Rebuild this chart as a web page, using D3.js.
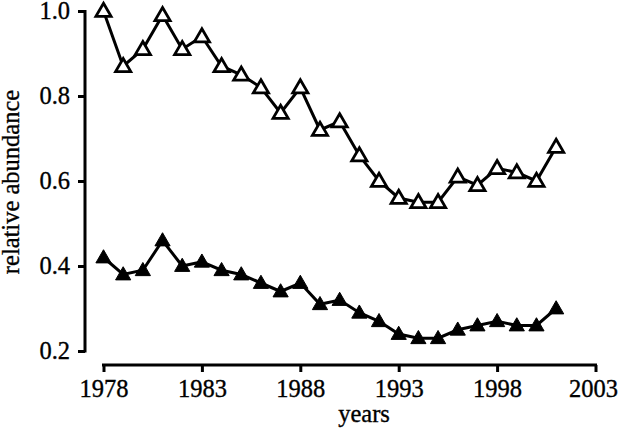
<!DOCTYPE html>
<html>
<head>
<meta charset="utf-8">
<script src="https://cdn.jsdelivr.net/npm/d3@7"></script>
<style>
  html, body { margin: 0; padding: 0; background: #fff; }
  svg { display: block; }
  text { font-family: "Liberation Serif", "Times New Roman", serif; fill: #000; stroke: #000; stroke-width: 0.35px; }
</style>
</head>
<body>
<svg id="chart" width="618" height="429"></svg>
<script>
const years = [1978,1979,1980,1981,1982,1983,1984,1985,1986,1987,1988,1989,1990,1991,1992,1993,1994,1995,1996,1997,1998,1999,2000,2001];
const upperValues = [1.00,0.87,0.91,0.99,0.91,0.94,0.87,0.85,0.82,0.76,0.82,0.72,0.74,0.66,0.60,0.56,0.55,0.55,0.61,0.59,0.63,0.62,0.60,0.68];
const lowerValues = [0.42,0.38,0.39,0.46,0.40,0.41,0.39,0.38,0.36,0.34,0.36,0.31,0.32,0.29,0.27,0.24,0.23,0.23,0.25,0.26,0.27,0.26,0.26,0.30];
const xTicks = [1978,1983,1988,1993,1998,2003];
const yTicks = [0.2,0.4,0.6,0.8,1.0];

const svg = d3.select("#chart");
const x = d3.scaleLinear().domain([1978, 2003]).range([103.5, 595.5]);
const y = d3.scaleLinear().domain([0.2, 1.0]).range([351, 11]);
const fs = "24.5px";

// y axis
const yAxis = svg.append("g").attr("transform", "translate(85,0)")
  .call(d3.axisLeft(y).tickValues(yTicks).tickFormat(d3.format(".1f")).tickSize(7).tickPadding(8));
yAxis.select(".domain").attr("stroke", "#000").attr("stroke-width", 3).attr("d", `M0,${y(1.0) - 1}V${y(0.2) + 1.5}`);
yAxis.selectAll(".tick line").attr("stroke", "#000").attr("stroke-width", 3);
yAxis.selectAll(".tick text").style("font-size", fs).attr("dy", "0.29em");

// x axis
const xAxis = svg.append("g").attr("transform", "translate(0,365)")
  .call(d3.axisBottom(x).tickValues(xTicks).tickFormat(d3.format("d")).tickSize(7).tickPadding(5));
xAxis.select(".domain").attr("stroke", "#000").attr("stroke-width", 3).attr("d", `M${x(1978) - 1.5},0H${x(2003) + 1.5}`);
xAxis.selectAll(".tick line").attr("stroke", "#000").attr("stroke-width", 3);
xAxis.selectAll(".tick text").style("font-size", fs).attr("y", 32).attr("dy", 0)
  .attr("dx", d => d === 2003 ? -2.5 : 0);

// axis labels
svg.append("text").attr("x", 364).attr("y", 422).attr("text-anchor", "middle")
  .style("font-size", fs).text("years");
svg.append("text").attr("transform", "translate(19,182) rotate(-90)").attr("text-anchor", "middle")
  .style("font-size", fs).text("relative abundance");

const line = d3.line().x((d, i) => x(years[i])).y(d => y(d));
const tri = d3.symbol().type(d3.symbolTriangle).size(100);

function series(values, filled) {
  svg.append("path").datum(values).attr("d", line)
    .attr("fill", "none").attr("stroke", "#000").attr("stroke-width", 3);
  svg.append("g").selectAll("path").data(values).join("path")
    .attr("d", tri)
    .attr("transform", (d, i) => `translate(${x(years[i])},${y(d) + 1})`)
    .attr("fill", filled ? "#000" : "#fff")
    .attr("stroke", "#000").attr("stroke-width", filled ? 1 : 2.8)
    .attr("stroke-linejoin", "miter");
}
series(upperValues, false);
series(lowerValues, true);
</script>
</body>
</html>
